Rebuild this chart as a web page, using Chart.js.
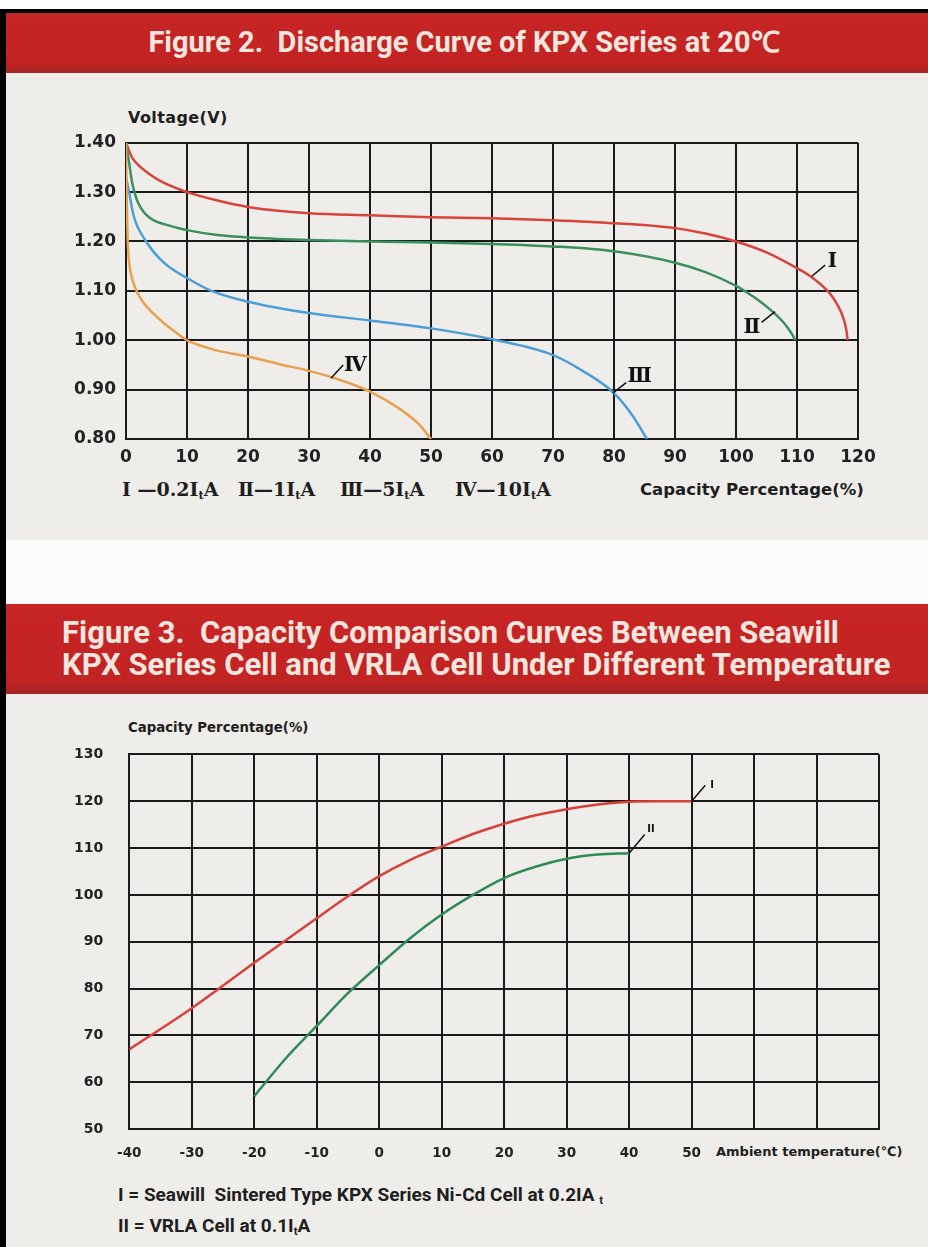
<!DOCTYPE html>
<html>
<head>
<meta charset="utf-8">
<script src="https://cdn.jsdelivr.net/npm/chart.js@4.4.1/dist/chart.umd.min.js"></script>
<style>
body{margin:0;width:928px;height:1247px;overflow:hidden;background:#efede9;position:relative;font-family:"DejaVu Sans",sans-serif;color:#1e1e1e}
.abs{position:absolute;white-space:nowrap;transform:translateY(-50%);line-height:1}
.band{position:absolute;left:0;width:928px}
.head{background:linear-gradient(#c82525,#c22323 85%,#a42626)}
.ttl{font-family:Roboto,sans-serif;font-weight:700;color:#f4e6de}
.lbl{font-weight:700}
.ser{font-family:"DejaVu Serif","Liberation Serif",serif;font-weight:700;font-size:19px}
.leg{font-family:Roboto,sans-serif;font-weight:700;font-size:19px}
sub{font-size:60%;vertical-align:-3px}
canvas{position:absolute;left:0}
</style>
</head>
<body>
<div class="band" style="top:0;height:9px;background:#fff"></div>
<div class="band" style="top:9px;height:4px;background:#000"></div>
<div class="band head" style="top:13px;height:60px"></div>
<div class="band" style="top:540px;height:64px;background:#fbfbfa"></div>
<div class="band head" style="top:604px;height:90px"></div>
<div style="position:absolute;left:0;top:9px;width:6px;height:1238px;background:#000"></div>

<div class="abs ttl" style="left:0;width:928px;text-align:center;top:42px;font-size:29px">Figure 2.&nbsp; Discharge Curve of KPX Series at 20℃</div>
<div class="abs ttl" style="left:62px;top:632px;font-size:31px">Figure 3.&nbsp; Capacity Comparison Curves Between Seawill</div>
<div class="abs ttl" style="left:62px;top:664px;font-size:31px">KPX Series Cell and VRLA Cell Under Different Temperature</div>

<div class="abs lbl" style="left:128px;top:118px;font-size:16px;letter-spacing:0.4px">Voltage(V)</div>
<div class="abs ser" style="left:122px;top:491px">Ⅰ —0.2I<sub>t</sub>A</div>
<div class="abs ser" style="left:238px;top:491px">Ⅱ—1I<sub>t</sub>A</div>
<div class="abs ser" style="left:340px;top:491px">Ⅲ—5I<sub>t</sub>A</div>
<div class="abs ser" style="left:455px;top:491px">Ⅳ—10I<sub>t</sub>A</div>
<div class="abs lbl" style="left:640px;top:490px;font-size:16.5px">Capacity Percentage(%)</div>

<div class="abs lbl" style="left:128px;top:728px;font-size:13.3px">Capacity Percentage(%)</div>
<div class="abs lbl" style="left:716px;top:1151px;font-size:13px">Ambient temperature(℃)</div>
<div class="abs leg" style="left:118px;top:1196px">I = Seawill&nbsp; Sintered Type KPX Series Ni-Cd Cell at 0.2IA <sub>t</sub></div>
<div class="abs leg" style="left:118px;top:1227px">II = VRLA Cell at 0.1I<sub>t</sub>A</div>

<canvas id="fig2" width="928" height="400" style="top:100px"></canvas>
<canvas id="fig3" width="928" height="480" style="top:720px"></canvas>

<script>
// Figure 2: discharge curves (capacity % -> voltage)
const capI  = [0, 1, 2, 4, 6, 10, 15, 20, 30, 40, 50, 60, 70, 80, 90, 95, 100, 105, 110, 112, 114, 115.5, 116.7, 117.6, 118.1, 118.3]
const voltI = [1.40, 1.37, 1.355, 1.335, 1.32, 1.30, 1.283, 1.27, 1.257, 1.253, 1.249, 1.247, 1.243, 1.237, 1.227, 1.216, 1.20, 1.178, 1.146, 1.131, 1.112, 1.093, 1.07, 1.045, 1.02, 1.00]
const capII  = [0, 0.5, 1, 1.5, 2, 3, 4, 5, 6.5, 8, 10, 15, 20, 30, 40, 50, 60, 70, 80, 90, 95, 100, 102, 104, 106, 107.5, 108.5, 109.3, 109.7]
const voltII = [1.40, 1.36, 1.32, 1.295, 1.278, 1.258, 1.247, 1.24, 1.234, 1.229, 1.223, 1.213, 1.208, 1.203, 1.20, 1.198, 1.195, 1.19, 1.18, 1.157, 1.138, 1.11, 1.095, 1.078, 1.058, 1.04, 1.025, 1.01, 1.00]
const capIII  = [0, 0.5, 1.3, 3.3, 6.3, 10, 14, 20, 30, 40, 50, 60, 70, 75, 80, 83, 85.4]
const voltIII = [1.33, 1.30, 1.25, 1.20, 1.156, 1.126, 1.10, 1.078, 1.055, 1.04, 1.024, 1.002, 0.97, 0.937, 0.893, 0.848, 0.80]
const capIV  = [0, 0.1, 0.25, 0.5, 1, 2, 3, 4, 5, 6, 7.5, 10, 12.5, 15, 20, 25, 30, 35, 40, 45, 48, 50]
const voltIV = [1.40, 1.30, 1.21, 1.16, 1.125, 1.093, 1.074, 1.06, 1.048, 1.037, 1.022, 1.00, 0.988, 0.979, 0.967, 0.952, 0.938, 0.92, 0.896, 0.86, 0.83, 0.80]

// Figure 3: capacity vs ambient temperature
const tempI  = [-40, -30, -20, -10, -5, 0, 5, 10, 15, 20, 25, 30, 35, 40, 45, 50]
const capTI  = [67, 75.8, 85.5, 95, 99.7, 104, 107.5, 110.3, 113, 115.2, 117, 118.3, 119.3, 119.9, 120, 120]
const tempII = [-20, -15, -10, -5, 0, 5, 10, 15, 20, 25, 30, 35, 40]
const capTII = [57, 65, 72, 79, 85, 90.8, 95.8, 100, 103.6, 106, 107.7, 108.6, 108.9]

const pts = (xs, ys) => xs.map((v, i) => ({x: v, y: ys[i]}))

const line = (data, color) => ({
  data: data, borderColor: color, borderWidth: 2.5, pointRadius: 0,
  cubicInterpolationMode: 'monotone', fill: false
})

// roman numeral tags with leader lines, in data units
const tagPlugin = {
  id: 'tags',
  afterDatasetsDraw(chart, args, opts) {
    const {ctx} = chart
    const x = chart.scales.x, y = chart.scales.y
    ctx.save()
    opts.items.forEach(t => {
      ctx.strokeStyle = '#111'
      ctx.lineWidth = 1.5
      ctx.beginPath()
      ctx.moveTo(x.getPixelForValue(t.from[0]), y.getPixelForValue(t.from[1]))
      ctx.lineTo(x.getPixelForValue(t.to[0]), y.getPixelForValue(t.to[1]))
      ctx.stroke()
      ctx.font = opts.font
      ctx.fillStyle = '#111'
      ctx.textAlign = 'center'
      ctx.textBaseline = 'middle'
      ctx.fillText(t.text, x.getPixelForValue(t.at[0]), y.getPixelForValue(t.at[1]))
    })
    ctx.restore()
  }
}

const gridOpts = {color: '#1a1a1a', lineWidth: 2, drawTicks: false}
const borderOpts = {color: '#1a1a1a', width: 2}

new Chart(document.getElementById('fig2'), {
  type: 'line',
  data: {
    datasets: [
      line(pts(capIV, voltIV), '#e9a04f'),
      line(pts(capIII, voltIII), '#4b9fd6'),
      line(pts(capII, voltII), '#3a8f5e'),
      line(pts(capI, voltI), '#d8433d')
    ]
  },
  plugins: [tagPlugin],
  options: {
    responsive: false,
    animation: false,
    layout: {padding: {left: 0, right: 70, top: 42.7, bottom: 26}},
    plugins: {
      legend: {display: false},
      tooltip: {enabled: false},
      tags: {
        font: 'bold 20px "DejaVu Serif", serif',
        items: [
          {text: 'Ⅰ', from: [112.4, 1.129], to: [114.6, 1.152], at: [115.8, 1.158]},
          {text: 'Ⅱ', from: [106.4, 1.058], to: [104.2, 1.036], at: [102.6, 1.026]},
          {text: 'Ⅲ', from: [79.8, 0.893], to: [82.0, 0.914], at: [84.2, 0.925]},
          {text: 'Ⅳ', from: [33.6, 0.923], to: [35.6, 0.95], at: [37.6, 0.948]}
        ]
      }
    },
    scales: {
      x: {
        type: 'linear', min: 0, max: 120,
        ticks: {stepSize: 10, color: '#222', padding: 8, font: {family: 'DejaVu Sans', weight: 'bold', size: 17}},
        grid: gridOpts, border: borderOpts,
        afterFit: s => { s.height = 35 }
      },
      y: {
        min: 0.8, max: 1.4,
        ticks: {stepSize: 0.1, color: '#222', padding: 10, font: {family: 'DejaVu Sans', weight: 'bold', size: 17},
          callback: v => v.toFixed(2)},
        grid: gridOpts, border: borderOpts,
        afterFit: s => { s.width = 126 }
      }
    }
  }
})

new Chart(document.getElementById('fig3'), {
  type: 'line',
  data: {
    datasets: [
      line(pts(tempII, capTII), '#2e8b55'),
      line(pts(tempI, capTI), '#d8403a')
    ]
  },
  plugins: [tagPlugin],
  options: {
    responsive: false,
    animation: false,
    layout: {padding: {left: 0, right: 49, top: 26.7, bottom: 41}},
    plugins: {
      legend: {display: false},
      tooltip: {enabled: false},
      tags: {
        font: 'bold 10px "DejaVu Sans", sans-serif',
        items: [
          {text: 'I', from: [50, 120], to: [52.2, 123.4], at: [53.3, 123.3]},
          {text: 'II', from: [40, 108.9], to: [42.5, 112.9], at: [43.5, 114]}
        ]
      }
    },
    scales: {
      x: {
        type: 'linear', min: -40, max: 80,
        ticks: {stepSize: 10, autoSkip: false, color: '#222', padding: 16, font: {family: 'DejaVu Sans', weight: 'bold', size: 13.5},
          callback: v => v > 50 ? '' : String(v)},
        grid: gridOpts, border: borderOpts,
        afterFit: s => { s.height = 30 }
      },
      y: {
        min: 50, max: 130,
        ticks: {stepSize: 10, color: '#222', padding: 26, font: {family: 'DejaVu Sans', weight: 'bold', size: 14}},
        grid: gridOpts, border: borderOpts,
        afterFit: s => { s.width = 129.3 }
      }
    }
  }
})
</script>
</body>
</html>
